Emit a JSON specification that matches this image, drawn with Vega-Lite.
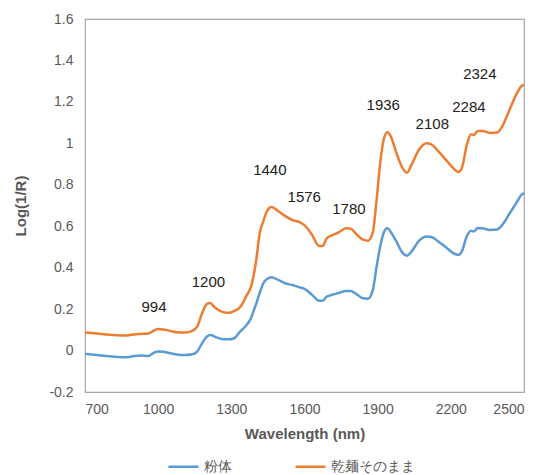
{
  "$schema": "https://vega.github.io/schema/vega-lite/v6.json",
  "width": 439,
  "height": 373,
  "autosize": "none",
  "padding": {"left": 85, "top": 19, "right": 18, "bottom": 83},
  "background": "white",
  "config": {
    "font": "Liberation Sans",
    "view": {"stroke": "#a6a6a6", "strokeWidth": 1.2},
    "axis": {"grid": false, "ticks": false, "domain": false, "labelColor": "#595959", "labelFontSize": 14, "titleColor": "#595959", "titleFontSize": 15, "titleFontWeight": "bold"}
  },
  "datasets": {
    "spectra": [
      {"wl": 700, "v": 0.088, "s": "乾麺そのまま"},
      {"wl": 750, "v": 0.082, "s": "乾麺そのまま"},
      {"wl": 800, "v": 0.076, "s": "乾麺そのまま"},
      {"wl": 850, "v": 0.073, "s": "乾麺そのまま"},
      {"wl": 880, "v": 0.074, "s": "乾麺そのまま"},
      {"wl": 900, "v": 0.078, "s": "乾麺そのまま"},
      {"wl": 930, "v": 0.080, "s": "乾麺そのまま"},
      {"wl": 960, "v": 0.082, "s": "乾麺そのまま"},
      {"wl": 980, "v": 0.095, "s": "乾麺そのまま"},
      {"wl": 1000, "v": 0.104, "s": "乾麺そのまま"},
      {"wl": 1020, "v": 0.102, "s": "乾麺そのまま"},
      {"wl": 1050, "v": 0.095, "s": "乾麺そのまま"},
      {"wl": 1080, "v": 0.088, "s": "乾麺そのまま"},
      {"wl": 1110, "v": 0.087, "s": "乾麺そのまま"},
      {"wl": 1140, "v": 0.095, "s": "乾麺そのまま"},
      {"wl": 1160, "v": 0.115, "s": "乾麺そのまま"},
      {"wl": 1180, "v": 0.180, "s": "乾麺そのまま"},
      {"wl": 1200, "v": 0.225, "s": "乾麺そのまま"},
      {"wl": 1212, "v": 0.229, "s": "乾麺そのまま"},
      {"wl": 1235, "v": 0.205, "s": "乾麺そのまま"},
      {"wl": 1260, "v": 0.188, "s": "乾麺そのまま"},
      {"wl": 1290, "v": 0.182, "s": "乾麺そのまま"},
      {"wl": 1310, "v": 0.190, "s": "乾麺そのまま"},
      {"wl": 1340, "v": 0.215, "s": "乾麺そのまま"},
      {"wl": 1360, "v": 0.260, "s": "乾麺そのまま"},
      {"wl": 1383, "v": 0.317, "s": "乾麺そのまま"},
      {"wl": 1400, "v": 0.420, "s": "乾麺そのまま"},
      {"wl": 1417, "v": 0.570, "s": "乾麺そのまま"},
      {"wl": 1430, "v": 0.620, "s": "乾麺そのまま"},
      {"wl": 1445, "v": 0.670, "s": "乾麺そのまま"},
      {"wl": 1465, "v": 0.693, "s": "乾麺そのまま"},
      {"wl": 1490, "v": 0.675, "s": "乾麺そのまま"},
      {"wl": 1520, "v": 0.650, "s": "乾麺そのまま"},
      {"wl": 1550, "v": 0.630, "s": "乾麺そのまま"},
      {"wl": 1580, "v": 0.620, "s": "乾麺そのまま"},
      {"wl": 1600, "v": 0.605, "s": "乾麺そのまま"},
      {"wl": 1630, "v": 0.560, "s": "乾麺そのまま"},
      {"wl": 1660, "v": 0.505, "s": "乾麺そのまま"},
      {"wl": 1675, "v": 0.505, "s": "乾麺そのまま"},
      {"wl": 1690, "v": 0.540, "s": "乾麺そのまま"},
      {"wl": 1710, "v": 0.555, "s": "乾麺そのまま"},
      {"wl": 1740, "v": 0.570, "s": "乾麺そのまま"},
      {"wl": 1770, "v": 0.590, "s": "乾麺そのまま"},
      {"wl": 1790, "v": 0.588, "s": "乾麺そのまま"},
      {"wl": 1810, "v": 0.565, "s": "乾麺そのまま"},
      {"wl": 1840, "v": 0.535, "s": "乾麺そのまま"},
      {"wl": 1860, "v": 0.530, "s": "乾麺そのまま"},
      {"wl": 1880, "v": 0.570, "s": "乾麺そのまま"},
      {"wl": 1895, "v": 0.720, "s": "乾麺そのまま"},
      {"wl": 1910, "v": 0.900, "s": "乾麺そのまま"},
      {"wl": 1925, "v": 1.020, "s": "乾麺そのまま"},
      {"wl": 1940, "v": 1.053, "s": "乾麺そのまま"},
      {"wl": 1955, "v": 1.030, "s": "乾麺そのまま"},
      {"wl": 1975, "v": 0.960, "s": "乾麺そのまま"},
      {"wl": 2000, "v": 0.885, "s": "乾麺そのまま"},
      {"wl": 2020, "v": 0.858, "s": "乾麺そのまま"},
      {"wl": 2040, "v": 0.900, "s": "乾麺そのまま"},
      {"wl": 2070, "v": 0.970, "s": "乾麺そのまま"},
      {"wl": 2100, "v": 1.000, "s": "乾麺そのまま"},
      {"wl": 2120, "v": 0.995, "s": "乾麺そのまま"},
      {"wl": 2150, "v": 0.960, "s": "乾麺そのまま"},
      {"wl": 2180, "v": 0.920, "s": "乾麺そのまま"},
      {"wl": 2210, "v": 0.880, "s": "乾麺そのまま"},
      {"wl": 2230, "v": 0.862, "s": "乾麺そのまま"},
      {"wl": 2245, "v": 0.880, "s": "乾麺そのまま"},
      {"wl": 2265, "v": 0.990, "s": "乾麺そのまま"},
      {"wl": 2283, "v": 1.044, "s": "乾麺そのまま"},
      {"wl": 2295, "v": 1.040, "s": "乾麺そのまま"},
      {"wl": 2310, "v": 1.060, "s": "乾麺そのまま"},
      {"wl": 2330, "v": 1.060, "s": "乾麺そのまま"},
      {"wl": 2360, "v": 1.050, "s": "乾麺そのまま"},
      {"wl": 2390, "v": 1.052, "s": "乾麺そのまま"},
      {"wl": 2410, "v": 1.080, "s": "乾麺そのまま"},
      {"wl": 2440, "v": 1.160, "s": "乾麺そのまま"},
      {"wl": 2470, "v": 1.240, "s": "乾麺そのまま"},
      {"wl": 2490, "v": 1.277, "s": "乾麺そのまま"},
      {"wl": 2500, "v": 1.283, "s": "乾麺そのまま"},
      {"wl": 700, "v": -0.016, "s": "粉体"},
      {"wl": 750, "v": -0.022, "s": "粉体"},
      {"wl": 800, "v": -0.028, "s": "粉体"},
      {"wl": 850, "v": -0.032, "s": "粉体"},
      {"wl": 880, "v": -0.031, "s": "粉体"},
      {"wl": 900, "v": -0.026, "s": "粉体"},
      {"wl": 930, "v": -0.024, "s": "粉体"},
      {"wl": 960, "v": -0.026, "s": "粉体"},
      {"wl": 980, "v": -0.012, "s": "粉体"},
      {"wl": 1000, "v": -0.004, "s": "粉体"},
      {"wl": 1020, "v": -0.006, "s": "粉体"},
      {"wl": 1050, "v": -0.013, "s": "粉体"},
      {"wl": 1080, "v": -0.020, "s": "粉体"},
      {"wl": 1110, "v": -0.022, "s": "粉体"},
      {"wl": 1140, "v": -0.018, "s": "粉体"},
      {"wl": 1160, "v": -0.005, "s": "粉体"},
      {"wl": 1180, "v": 0.035, "s": "粉体"},
      {"wl": 1200, "v": 0.068, "s": "粉体"},
      {"wl": 1215, "v": 0.075, "s": "粉体"},
      {"wl": 1235, "v": 0.065, "s": "粉体"},
      {"wl": 1260, "v": 0.056, "s": "粉体"},
      {"wl": 1290, "v": 0.054, "s": "粉体"},
      {"wl": 1310, "v": 0.058, "s": "粉体"},
      {"wl": 1335, "v": 0.090, "s": "粉体"},
      {"wl": 1360, "v": 0.120, "s": "粉体"},
      {"wl": 1377, "v": 0.148, "s": "粉体"},
      {"wl": 1400, "v": 0.220, "s": "粉体"},
      {"wl": 1417, "v": 0.280, "s": "粉体"},
      {"wl": 1431, "v": 0.325, "s": "粉体"},
      {"wl": 1450, "v": 0.348, "s": "粉体"},
      {"wl": 1465, "v": 0.354, "s": "粉体"},
      {"wl": 1490, "v": 0.342, "s": "粉体"},
      {"wl": 1520, "v": 0.325, "s": "粉体"},
      {"wl": 1550, "v": 0.316, "s": "粉体"},
      {"wl": 1580, "v": 0.305, "s": "粉体"},
      {"wl": 1600, "v": 0.298, "s": "粉体"},
      {"wl": 1630, "v": 0.270, "s": "粉体"},
      {"wl": 1660, "v": 0.240, "s": "粉体"},
      {"wl": 1675, "v": 0.240, "s": "粉体"},
      {"wl": 1690, "v": 0.260, "s": "粉体"},
      {"wl": 1710, "v": 0.268, "s": "粉体"},
      {"wl": 1740, "v": 0.278, "s": "粉体"},
      {"wl": 1770, "v": 0.288, "s": "粉体"},
      {"wl": 1790, "v": 0.287, "s": "粉体"},
      {"wl": 1810, "v": 0.275, "s": "粉体"},
      {"wl": 1840, "v": 0.252, "s": "粉体"},
      {"wl": 1860, "v": 0.250, "s": "粉体"},
      {"wl": 1880, "v": 0.290, "s": "粉体"},
      {"wl": 1895, "v": 0.400, "s": "粉体"},
      {"wl": 1910, "v": 0.500, "s": "粉体"},
      {"wl": 1925, "v": 0.570, "s": "粉体"},
      {"wl": 1940, "v": 0.590, "s": "粉体"},
      {"wl": 1955, "v": 0.570, "s": "粉体"},
      {"wl": 1975, "v": 0.530, "s": "粉体"},
      {"wl": 2000, "v": 0.475, "s": "粉体"},
      {"wl": 2020, "v": 0.457, "s": "粉体"},
      {"wl": 2040, "v": 0.480, "s": "粉体"},
      {"wl": 2070, "v": 0.530, "s": "粉体"},
      {"wl": 2100, "v": 0.550, "s": "粉体"},
      {"wl": 2120, "v": 0.548, "s": "粉体"},
      {"wl": 2150, "v": 0.525, "s": "粉体"},
      {"wl": 2180, "v": 0.498, "s": "粉体"},
      {"wl": 2210, "v": 0.470, "s": "粉体"},
      {"wl": 2230, "v": 0.461, "s": "粉体"},
      {"wl": 2245, "v": 0.478, "s": "粉体"},
      {"wl": 2265, "v": 0.550, "s": "粉体"},
      {"wl": 2283, "v": 0.578, "s": "粉体"},
      {"wl": 2295, "v": 0.575, "s": "粉体"},
      {"wl": 2310, "v": 0.592, "s": "粉体"},
      {"wl": 2330, "v": 0.590, "s": "粉体"},
      {"wl": 2360, "v": 0.582, "s": "粉体"},
      {"wl": 2390, "v": 0.584, "s": "粉体"},
      {"wl": 2410, "v": 0.605, "s": "粉体"},
      {"wl": 2440, "v": 0.660, "s": "粉体"},
      {"wl": 2470, "v": 0.715, "s": "粉体"},
      {"wl": 2490, "v": 0.752, "s": "粉体"},
      {"wl": 2500, "v": 0.760, "s": "粉体"}
    ],
    "labels": [
      {"t": "994", "wl": 983, "v": 0.209},
      {"t": "1200", "wl": 1206, "v": 0.333},
      {"t": "1440", "wl": 1458, "v": 0.87},
      {"t": "1576", "wl": 1599, "v": 0.74},
      {"t": "1780", "wl": 1782, "v": 0.682},
      {"t": "1936", "wl": 1923, "v": 1.185},
      {"t": "2108", "wl": 2124, "v": 1.092},
      {"t": "2284", "wl": 2274, "v": 1.177},
      {"t": "2324", "wl": 2319, "v": 1.335}
    ]
  },
  "layer": [
    {
      "data": {"name": "spectra"},
      "mark": {"type": "line", "interpolate": "monotone", "strokeWidth": 2.5},
      "encoding": {
        "x": {"field": "wl", "type": "quantitative", "scale": {"domain": [700, 2500], "nice": false}, "axis": {"values": [700, 1000, 1300, 1600, 1900, 2200, 2500], "labelExpr": "'' + datum.value", "title": "Wavelength (nm)", "labelPadding": 10, "titlePadding": 10}},
        "y": {"field": "v", "type": "quantitative", "scale": {"domain": [-0.2, 1.6], "nice": false}, "axis": {"values": [-0.2, 0, 0.2, 0.4, 0.6, 0.8, 1, 1.2, 1.4, 1.6], "labelExpr": "'' + datum.value", "title": "Log(1/R)", "labelPadding": 12, "titlePadding": 20}},
        "color": {"field": "s", "type": "nominal", "scale": {"domain": ["粉体", "乾麺そのまま"], "range": ["#5B9BD5", "#ED7D31"]},
          "legend": {"title": null, "orient": "none", "legendX": 82, "legendY": 431, "direction": "horizontal", "symbolType": "stroke", "symbolSize": 900, "symbolStrokeWidth": 2.5, "labelFontSize": 14, "labelColor": "#595959", "columnPadding": 58, "labelOffset": 4}},
        "order": {"field": "wl", "type": "quantitative"}
      }
    },
    {
      "data": {"name": "labels"},
      "mark": {"type": "text", "fontSize": 15, "color": "#222222", "align": "center", "baseline": "middle"},
      "encoding": {
        "x": {"field": "wl", "type": "quantitative"},
        "y": {"field": "v", "type": "quantitative"},
        "text": {"field": "t"}
      }
    }
  ]
}
